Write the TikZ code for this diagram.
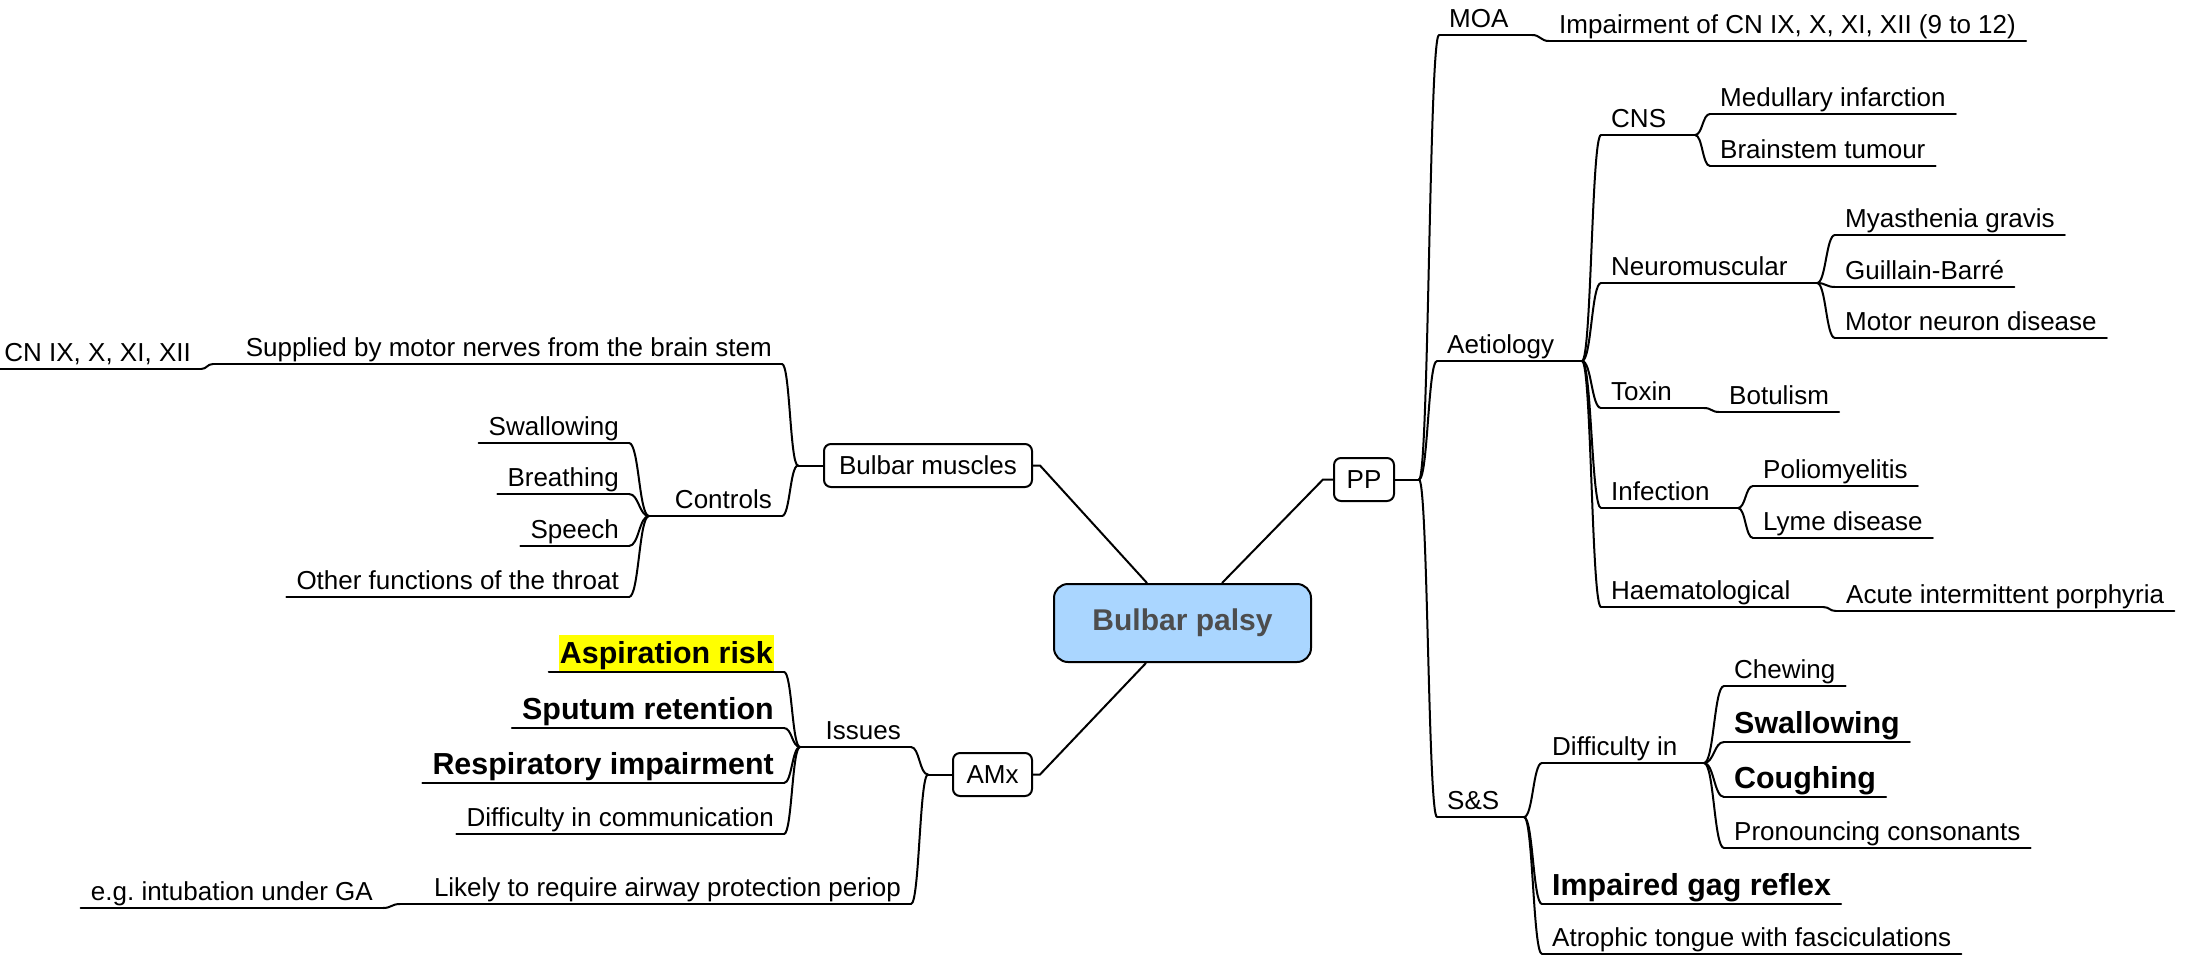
\documentclass[tikz,border=0pt]{standalone}
\usepackage{fontspec}
\setmainfont{Liberation Sans}
\usetikzlibrary{calc}
\frenchspacing
\definecolor{boxblue}{RGB}{170,214,255}
\definecolor{titlegray}{RGB}{77,77,77}
\definecolor{hlyellow}{RGB}{255,255,0}
% yellow marker behind a topic's text
\newcommand\hlite[1]{{\setlength{\fboxsep}{1pt}\colorbox{hlyellow}{\rule[-6pt]{0pt}{34pt}#1}}}
% curved mind-map branch from a junction point to a child's underline end
\newcommand\branch[2]{\draw[conn] (#1) .. controls ($(#1)!0.5!(#2 |- #1)$) and ($(#1 |- #2)!0.5!(#2)$) .. (#2);}
\tikzset{
  conn/.style={line width=2pt, line cap=round},
  reg/.style={font=\fontsize{26}{30}\selectfont},
  big/.style={font=\fontsize{30.4}{36}\selectfont\bfseries, inner ysep=8pt},
  topic/.style={reg, inner xsep=10pt, inner ysep=7pt, text depth=0pt},
  rtopic/.style={topic, anchor=south west},
  ltopic/.style={topic, anchor=south east},
  box/.style={reg, draw, line width=2pt, rounded corners=7pt, minimum height=43pt, inner sep=0pt},
}
\begin{document}
\begin{tikzpicture}[x=1pt, y=-1pt]
\useasboundingbox (0,0) rectangle (2186,956);

% central topic and main boxes
\node[draw, line width=2pt, fill=boxblue, rounded corners=14pt, minimum width=257pt,
      minimum height=78pt, font=\fontsize{30}{36}\selectfont\bfseries, text=titlegray]
      (center) at (1182.5,623) {Bulbar palsy};
\node[box, minimum width=208pt] (bm) at (928,465.5) {Bulbar muscles};
\node[box, minimum width=60pt] (pp) at (1364,479.5) {PP};
\node[box, minimum width=79pt] (amx) at (992.5,774.5) {AMx};

\coordinate (kBM) at (1040,465.5);
\coordinate (kPP) at (1323,479.5);
\coordinate (kAMx) at (1040,774.5);
\draw[line width=2pt] ([xshift=-35.5pt]center.north) -- (kBM) -- (bm.east);
\draw[line width=2pt] ([xshift=39.5pt]center.north) -- (kPP) -- (pp.west);
\draw[line width=2pt] ([xshift=-36.5pt]center.south) -- (kAMx) -- (amx.east);

% ---------- PP branch ----------
\node[rtopic] (moa) at (1439,35) {MOA};
\node[rtopic] (impair) at (1549,41) {Impairment of CN IX, X, XI, XII (9 to 12)};
\node[rtopic] (aet) at (1437,361) {Aetiology};
\node[rtopic] (cns) at (1601,135) {CNS};
\node[rtopic] (medul) at (1710,114) {Medullary infarction};
\node[rtopic] (brain) at (1710,166) {Brainstem tumour};
\node[rtopic] (neuro) at (1601,283) {Neuromuscular};
\node[rtopic] (myas) at (1835,235) {Myasthenia gravis};
\node[rtopic] (guill) at (1835,287) {Guillain-Barré};
\node[rtopic] (mnd) at (1835,338) {Motor neuron disease};
\node[rtopic] (toxin) at (1601,408) {Toxin};
\node[rtopic] (botul) at (1719,412) {Botulism};
\node[rtopic] (infect) at (1601,508) {Infection};
\node[rtopic] (polio) at (1753,486) {Poliomyelitis};
\node[rtopic] (lyme) at (1753,538) {Lyme disease};
\node[rtopic] (haem) at (1601,607) {Haematological};
\node[rtopic] (aip) at (1836,611) {Acute intermittent porphyria};
\node[rtopic] (ss) at (1437,817) {S\&S};
\node[rtopic] (diff) at (1542,763) {Difficulty in};
\node[rtopic] (chew) at (1724,686) {Chewing};
\node[rtopic, big] (swalr) at (1724,742) {Swallowing};
\node[rtopic, big] (cough) at (1724,797) {Coughing};
\node[rtopic] (pron) at (1724,848) {Pronouncing consonants};
\node[rtopic, big] (gag) at (1542,904) {Impaired gag reflex};
\node[rtopic] (atro) at (1542,954) {Atrophic tongue with fasciculations};

% ---------- Bulbar muscles branch ----------
\node[ltopic] (supp) at (782,364) {Supplied by motor nerves from the brain stem};
\node[ltopic] (cn) at (201,369) {CN IX, X, XI, XII};
\node[ltopic] (ctrl) at (782,516) {Controls};
\node[ltopic] (swall) at (629,443) {Swallowing};
\node[ltopic] (breath) at (629,494) {Breathing};
\node[ltopic] (speech) at (629,546) {Speech};
\node[ltopic] (other) at (629,597) {Other functions of the throat};

% ---------- AMx branch ----------
\node[ltopic] (issues) at (911,747) {Issues};
\node[ltopic, big] (asp) at (784,672) {\hlite{Aspiration risk}};
\node[ltopic, big] (sput) at (784,728) {Sputum retention};
\node[ltopic, big] (resp) at (784,783) {Respiratory impairment};
\node[ltopic] (dcomm) at (784,834) {Difficulty in communication};
\node[ltopic] (likely) at (911,904) {Likely to require airway protection periop};
\node[ltopic] (eg) at (383,908) {e.g. intubation under GA};

% underlines of all topics
\foreach \n in {moa,impair,aet,cns,medul,brain,neuro,myas,guill,mnd,toxin,botul,
                infect,polio,lyme,haem,aip,ss,diff,chew,swalr,cough,pron,gag,atro,
                supp,cn,ctrl,swall,breath,speech,other,
                issues,asp,sput,resp,dcomm,likely,eg}
  \draw[conn] (\n.south west) -- (\n.south east);

% junction points where branches fan out
\coordinate (jPP) at (1419,479.5);
\coordinate (jMOA) at (1532,35);
\coordinate (jAet) at (1582,361);
\coordinate (jCNS) at (1695,135);
\coordinate (jNeuro) at (1817,283);
\coordinate (jTox) at (1704,408);
\coordinate (jInf) at (1738,508);
\coordinate (jHaem) at (1823,607);
\coordinate (jSS) at (1524,817);
\coordinate (jDiff) at (1704,763);
\coordinate (jBM) at (798,465.5);
\coordinate (jSupp) at (213,364);
\coordinate (jCtrl) at (649,516);
\coordinate (jAMx) at (928,774.5);
\coordinate (jIss) at (800,747);
\coordinate (jLik) at (400,904);

% stubs from parents to junctions
\draw[conn] (pp.east) -- (jPP);
\draw[conn] (moa.south east) -- (jMOA);
\draw[conn] (aet.south east) -- (jAet);
\draw[conn] (cns.south east) -- (jCNS);
\draw[conn] (neuro.south east) -- (jNeuro);
\draw[conn] (toxin.south east) -- (jTox);
\draw[conn] (infect.south east) -- (jInf);
\draw[conn] (haem.south east) -- (jHaem);
\draw[conn] (ss.south east) -- (jSS);
\draw[conn] (diff.south east) -- (jDiff);
\draw[conn] (bm.west) -- (jBM);
\draw[conn] (supp.south west) -- (jSupp);
\draw[conn] (ctrl.south west) -- (jCtrl);
\draw[conn] (amx.west) -- (jAMx);
\draw[conn] (issues.south west) -- (jIss);
\draw[conn] (likely.south west) -- (jLik);

% curved branches
\branch{jPP}{moa.south west}
\branch{jPP}{aet.south west}
\branch{jPP}{ss.south west}
\branch{jMOA}{impair.south west}
\branch{jAet}{cns.south west}
\branch{jAet}{neuro.south west}
\branch{jAet}{toxin.south west}
\branch{jAet}{infect.south west}
\branch{jAet}{haem.south west}
\branch{jCNS}{medul.south west}
\branch{jCNS}{brain.south west}
\branch{jNeuro}{myas.south west}
\branch{jNeuro}{guill.south west}
\branch{jNeuro}{mnd.south west}
\branch{jTox}{botul.south west}
\branch{jInf}{polio.south west}
\branch{jInf}{lyme.south west}
\branch{jHaem}{aip.south west}
\branch{jSS}{diff.south west}
\branch{jSS}{gag.south west}
\branch{jSS}{atro.south west}
\branch{jDiff}{chew.south west}
\branch{jDiff}{swalr.south west}
\branch{jDiff}{cough.south west}
\branch{jDiff}{pron.south west}
\branch{jBM}{supp.south east}
\branch{jBM}{ctrl.south east}
\branch{jSupp}{cn.south east}
\branch{jCtrl}{swall.south east}
\branch{jCtrl}{breath.south east}
\branch{jCtrl}{speech.south east}
\branch{jCtrl}{other.south east}
\branch{jAMx}{issues.south east}
\branch{jAMx}{likely.south east}
\branch{jIss}{asp.south east}
\branch{jIss}{sput.south east}
\branch{jIss}{resp.south east}
\branch{jIss}{dcomm.south east}
\branch{jLik}{eg.south east}
\end{tikzpicture}
\end{document}
